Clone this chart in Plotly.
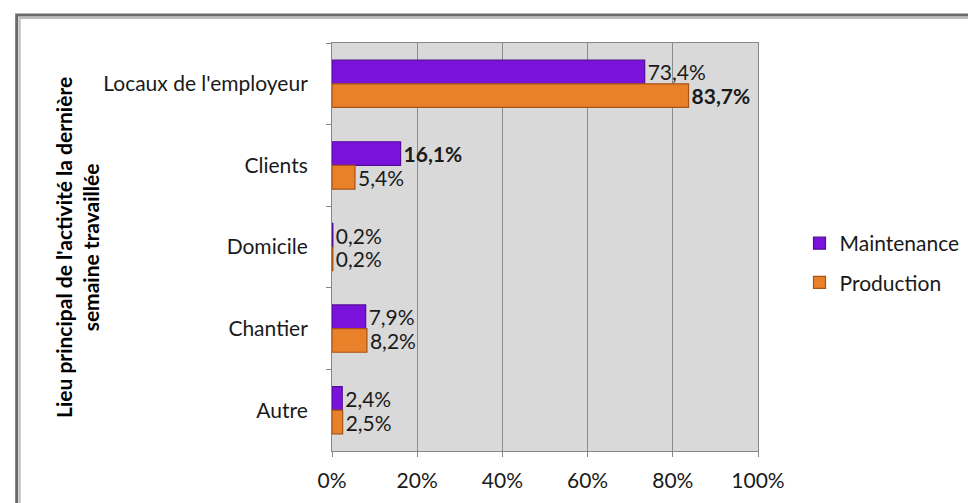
import plotly.graph_objects as go

categories = ["Locaux de l'employeur", "Clients", "Domicile", "Chantier", "Autre"]
maintenance = [73.4, 16.1, 0.2, 7.9, 2.4]
production = [83.7, 5.4, 0.2, 8.2, 2.5]
x_ticks = [0, 20, 40, 60, 80, 100]
x_tick_labels = ["0%", "20%", "40%", "60%", "80%", "100%"]
y_title = "Lieu principal de l'activité la dernière<br>semaine travaillée"
bold_labels = {("Maintenance", "Clients"), ("Production", "Locaux de l'employeur")}

OFF = 8  # page body margin
W, H = 976 - OFF, 503 - OFF
# plot area in screen pixels
SL, SR, ST, SB = 332, 763, 43, 451
L, R, T, B = SL - OFF, SR - OFF, ST - OFF, SB - OFF
FONT = "Lato"
FS = 21


def px_x(p):
    return (p - SL) / (SR - SL)


def px_y(p):
    return (SB - p) / (SB - ST)


def labels(name, vals):
    out = []
    for c, v in zip(categories, vals):
        s = f"{v:.1f}".replace(".", ",") + "%"
        if (name, c) in bold_labels:
            s = f"<b>{s}</b>"
        out.append(s)
    return out


fig = go.Figure()
series = [
    ("Maintenance", maintenance, "#7B12DC", "#520C98"),
    ("Production", production, "#E8812A", "#A85414"),
]
for name, vals, col, edge in series:
    fig.add_trace(go.Bar(
        y=categories, x=vals, name=name, orientation="h",
        marker=dict(color=col, line=dict(color=edge, width=1.2)),
        text=labels(name, vals), textposition="outside",
        textfont=dict(family=FONT, size=FS, color="#1a1a1a"),
        constraintext="none", cliponaxis=False,
        legendgroup=name,
    ))

fig.update_layout(
    width=W, height=H,
    margin=dict(l=L, r=W - R, t=T, b=H - B, pad=0),
    paper_bgcolor="white",
    plot_bgcolor="#D9D9D9",
    barmode="group", bargap=0.42, bargroupgap=0,
    font=dict(family=FONT, size=FS, color="#1a1a1a"),
    showlegend=True,
    legend=dict(x=px_x(805), y=px_y(223), xanchor="left", yanchor="top",
                font=dict(family=FONT, size=FS, color="#1a1a1a"),
                tracegroupgap=9, itemwidth=30, bgcolor="rgba(0,0,0,0)"),
    xaxis=dict(range=[0, 100], tickvals=x_ticks, ticktext=x_tick_labels,
               showgrid=True, gridcolor="#8C8C8C", gridwidth=1,
               showline=True, linecolor="#868686", linewidth=1, mirror=True,
               ticks="outside", ticklen=5, tickcolor="#868686",
               ticklabelstandoff=6, zeroline=False, fixedrange=True),
    yaxis=dict(autorange="reversed", showgrid=False,
               showline=True, linecolor="#868686", linewidth=1, mirror=True,
               ticks="outside", ticklen=5, tickcolor="#868686",
               tickson="boundaries", ticklabelstandoff=19, fixedrange=True),
)

fig.add_annotation(text=f"<b>{y_title}</b>", xref="paper", yref="paper",
                   x=px_x(74), y=px_y(247), textangle=-90, showarrow=False,
                   xanchor="center", yanchor="middle",
                   font=dict(family=FONT, size=21, color="#000000"))

# outer frame
fig.add_shape(type="rect", xref="paper", yref="paper",
              x0=px_x(13), x1=px_x(1000), y0=px_y(530), y1=px_y(15),
              line=dict(color="#6A6A6A", width=3), fillcolor="rgba(0,0,0,0)", layer="above")
fig.add_shape(type="rect", xref="paper", yref="paper",
              x0=px_x(16), x1=px_x(1000), y0=px_y(530), y1=px_y(18),
              line=dict(color="#BDBDBD", width=2), fillcolor="rgba(0,0,0,0)", layer="above")

fig.write_html("out.html")
